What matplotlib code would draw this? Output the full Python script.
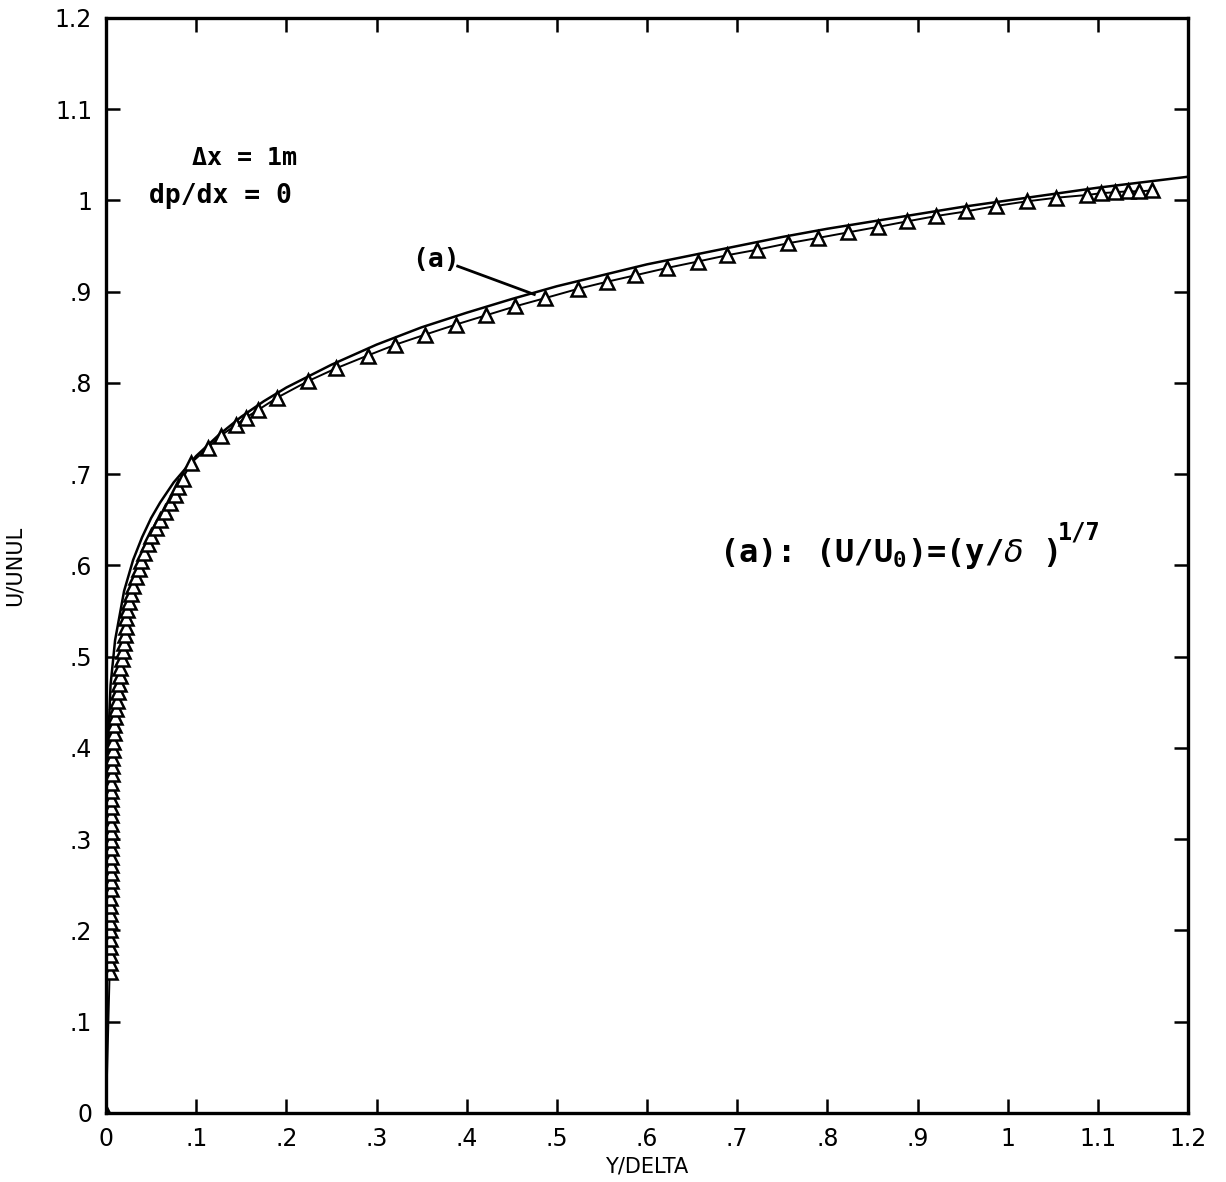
import numpy as np
import matplotlib
matplotlib.use("Agg")
import matplotlib.pyplot as plt

# --- data ---
# curve (a): U/U0 = (y/delta)^(1/7)
line_x = [0, 0, 0.0001, 0.001, 0.005, 0.01, 0.02, 0.03, 0.04, 0.05, 0.06, 0.075,
          0.1, 0.125, 0.15, 0.175, 0.2, 0.25, 0.3, 0.35, 0.4, 0.45, 0.5, 0.55, 0.6,
          0.65, 0.7, 0.75, 0.8, 0.85, 0.9, 0.95, 1.0, 1.05, 1.1, 1.15, 1.2]
line_y = [0, 0.155, 0.268, 0.373, 0.469, 0.518, 0.572, 0.606, 0.631, 0.652, 0.669, 0.691,
          0.720, 0.743, 0.763, 0.780, 0.795, 0.820, 0.842, 0.861, 0.877, 0.892, 0.906, 0.918, 0.930,
          0.940, 0.950, 0.960, 0.969, 0.977, 0.985, 0.993, 1.000, 1.007, 1.014, 1.020, 1.026]

# computed profile (triangles)
tri_x = [0.0,
         0.004, 0.004, 0.004, 0.004, 0.004, 0.0045, 0.0045, 0.0045, 0.0045, 0.0045,
         0.005, 0.005, 0.005, 0.005, 0.005, 0.0055, 0.0055, 0.0055, 0.0055, 0.0055,
         0.006, 0.006, 0.006, 0.006, 0.0065, 0.0065, 0.007, 0.0075, 0.008, 0.0085,
         0.009, 0.010, 0.011, 0.012, 0.013, 0.014, 0.015, 0.016, 0.018, 0.019,
         0.020, 0.021, 0.022, 0.022, 0.023, 0.025, 0.028, 0.030, 0.033, 0.036,
         0.039, 0.042, 0.046, 0.050, 0.055, 0.060, 0.065, 0.071, 0.077, 0.080,
         0.085,
         0.094, 0.113, 0.127, 0.144, 0.155, 0.168, 0.190, 0.224, 0.255, 0.290,
         0.321, 0.354, 0.388, 0.421, 0.454, 0.487, 0.523, 0.556, 0.587, 0.622,
         0.656, 0.689, 0.722, 0.756, 0.790, 0.823, 0.856, 0.888, 0.921, 0.954,
         0.987, 1.021, 1.054, 1.088, 1.104, 1.119, 1.133, 1.146, 1.160]
tri_y = [0.0,
         0.155, 0.164, 0.173, 0.182, 0.191, 0.200, 0.209, 0.218, 0.227, 0.236,
         0.245, 0.254, 0.263, 0.272, 0.281, 0.290, 0.299, 0.308, 0.317, 0.326,
         0.335, 0.344, 0.353, 0.362, 0.371, 0.380, 0.389, 0.398, 0.407, 0.416,
         0.425, 0.434, 0.443, 0.452, 0.461, 0.470, 0.479, 0.488, 0.497, 0.506,
         0.515, 0.524, 0.533, 0.542, 0.551, 0.560, 0.569, 0.578, 0.587, 0.596,
         0.605, 0.614, 0.623, 0.632, 0.641, 0.650, 0.659, 0.668, 0.677, 0.686,
         0.695,
         0.712, 0.729, 0.742, 0.754, 0.762, 0.770, 0.784, 0.802, 0.816, 0.830,
         0.842, 0.853, 0.864, 0.874, 0.884, 0.893, 0.903, 0.911, 0.918, 0.926,
         0.933, 0.940, 0.946, 0.953, 0.959, 0.965, 0.971, 0.977, 0.983, 0.988,
         0.994, 0.999, 1.003, 1.006, 1.008, 1.009, 1.010, 1.010, 1.011]

ticks = [0, 0.1, 0.2, 0.3, 0.4, 0.5, 0.6, 0.7, 0.8, 0.9, 1.0, 1.1, 1.2]
tick_labels = ["0", ".1", ".2", ".3", ".4", ".5", ".6", ".7", ".8", ".9", "1", "1.1", "1.2"]

# --- figure ---
fig = plt.figure(figsize=(12.26, 11.82), dpi=100)
ax = fig.add_axes([0.0865, 0.0584, 0.8825, 0.9264])

ax.plot(line_x, line_y, color="black", lw=1.8)
ax.plot(tri_x, tri_y, color="black", lw=1.4, marker="^", markersize=10,
        markerfacecolor="white", markeredgecolor="black", markeredgewidth=1.8)

ax.set_xlim(0, 1.2)
ax.set_ylim(0, 1.2)
ax.set_xticks(ticks)
ax.set_xticklabels(tick_labels)
ax.set_yticks(ticks)
ax.set_yticklabels(tick_labels)
ax.tick_params(direction="in", length=10, width=1.8, top=True, right=True,
               labelsize=17, pad=10)
for s in ax.spines.values():
    s.set_linewidth(2.4)

ax.set_xlabel("Y/DELTA", fontsize=15, labelpad=4)
ax.set_ylabel("U/UNUL", fontsize=15, labelpad=22)

mono = "DejaVu Sans Mono"
ax.text(0.095, 1.047, "Δx = 1m", fontsize=18, family=mono, fontweight="bold", va="center")
ax.text(0.048, 1.005, "dp/dx = 0", fontsize=19, family=mono, fontweight="bold", va="center")
ax.text(0.34, 0.935, "(a)", fontsize=19, family=mono, fontweight="bold", va="center")
ax.plot([0.39, 0.475], [0.928, 0.897], color="black", lw=2)
t = ax.text(0.68, 0.613, r"(a): (U/U$_\mathregular{0}$)=(y/$\delta$ )",
            fontsize=23, family=mono, fontweight="bold", va="center")
ax.annotate("1/7", xy=(1.0, 0.75), xycoords=t, fontsize=17, family=mono,
            fontweight="bold", va="bottom", ha="left")

fig.savefig("out.png", dpi=100)
